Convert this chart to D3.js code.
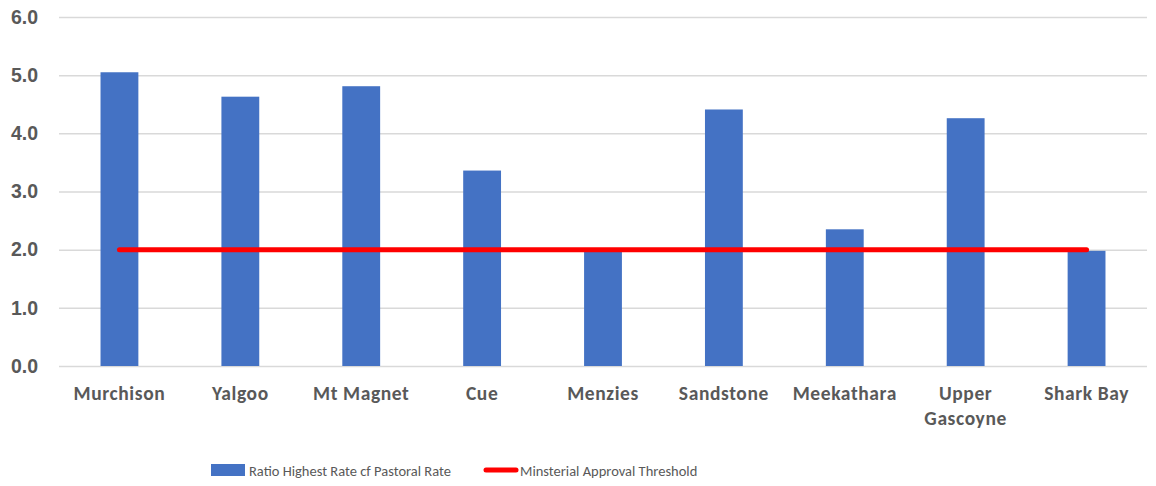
<!DOCTYPE html>
<html>
<head>
<meta charset="utf-8">
<script src="https://cdn.jsdelivr.net/npm/d3@7"></script>
<style>
  body { margin: 0; background: #fff; }
  svg { display: block; font-family: Calibri, Carlito, Lato, sans-serif; }
  .tick-label { fill: #595959; font-weight: bold; font-size: 19.5px; }
  .cat-label { letter-spacing: 0.6px; }
  .legend-label { fill: #595959; font-size: 14.5px; }
</style>
</head>
<body>
<div id="chart"></div>
<script>
// data
const categories = ['Murchison', 'Yalgoo', 'Mt Magnet', 'Cue', 'Menzies', 'Sandstone', 'Meekathara', 'Upper Gascoyne', 'Shark Bay'];
const ratioValues = [5.05, 4.63, 4.81, 3.36, 1.96, 4.41, 2.35, 4.26, 1.98];
const thresholdValues = [2, 2, 2, 2, 2, 2, 2, 2, 2];
const yTicks = [0, 1, 2, 3, 4, 5, 6];
const seriesNames = ['Ratio Highest Rate cf Pastoral Rate', 'Minsterial Approval Threshold'];

const width = 1156, height = 486;
const margin = { top: 17, right: 9, bottom: 120, left: 59 };
const boundedWidth = width - margin.left - margin.right;
const boundedHeight = height - margin.top - margin.bottom;

const svg = d3.select('#chart').append('svg')
    .attr('width', width)
    .attr('height', height);

const bounds = svg.append('g')
    .attr('transform', `translate(${margin.left},${margin.top})`);

const xScale = d3.scaleBand()
    .domain(categories)
    .range([0, boundedWidth])
    .paddingInner(0.687)
    .paddingOuter(0.3435);

const yScale = d3.scaleLinear()
    .domain([0, 6])
    .range([boundedHeight, 0]);

// grid lines + y labels
const yAxis = d3.axisLeft(yScale)
    .tickValues(yTicks)
    .tickSize(-boundedWidth)
    .tickPadding(21)
    .tickFormat(d3.format('.1f'));

const yAxisG = bounds.append('g').call(yAxis);
yAxisG.select('.domain').remove();
yAxisG.selectAll('.tick line').attr('stroke', '#d9d9d9').attr('stroke-width', 1.5);
yAxisG.selectAll('.tick text').attr('class', 'tick-label').attr('font-size', null).attr('font-family', null);

// bars
bounds.selectAll('rect.bar')
    .data(ratioValues)
    .join('rect')
    .attr('class', 'bar')
    .attr('x', (d, i) => xScale(categories[i]))
    .attr('y', d => yScale(d))
    .attr('width', xScale.bandwidth())
    .attr('height', d => yScale(0) - yScale(d))
    .attr('fill', '#4472c4');

// threshold line
const line = d3.line()
    .x((d, i) => xScale(categories[i]) + xScale.bandwidth() / 2)
    .y(d => yScale(d));

bounds.append('path')
    .datum(thresholdValues)
    .attr('d', line)
    .attr('fill', 'none')
    .attr('stroke', '#ff0000')
    .attr('stroke-width', 5)
    .attr('stroke-linecap', 'round');

// x labels (wrap long names on two lines)
const xLabels = bounds.append('g')
    .selectAll('text')
    .data(categories)
    .join('text')
    .attr('class', 'tick-label cat-label')
    .attr('text-anchor', 'middle')
    .attr('x', d => xScale(d) + xScale.bandwidth() / 2)
    .attr('y', boundedHeight + 34);

xLabels.each(function (d) {
    const words = d === 'Upper Gascoyne' ? ['Upper', 'Gascoyne'] : [d];
    const t = d3.select(this);
    words.forEach((w, i) => {
        t.append('tspan')
            .attr('x', t.attr('x'))
            .attr('dy', i === 0 ? 0 : 25)
            .text(w);
    });
});

// legend
const legend = svg.append('g').attr('transform', 'translate(0,470)');

legend.append('rect')
    .attr('x', 211).attr('y', -6)
    .attr('width', 34).attr('height', 12)
    .attr('fill', '#4472c4');
legend.append('text')
    .attr('class', 'legend-label')
    .attr('x', 249).attr('y', 5.5)
    .text(seriesNames[0]);

legend.append('line')
    .attr('x1', 486).attr('x2', 516)
    .attr('y1', 0).attr('y2', 0)
    .attr('stroke', '#ff0000')
    .attr('stroke-width', 5)
    .attr('stroke-linecap', 'round');
legend.append('text')
    .attr('class', 'legend-label')
    .attr('x', 520).attr('y', 5.5)
    .text(seriesNames[1]);
</script>
</body>
</html>
